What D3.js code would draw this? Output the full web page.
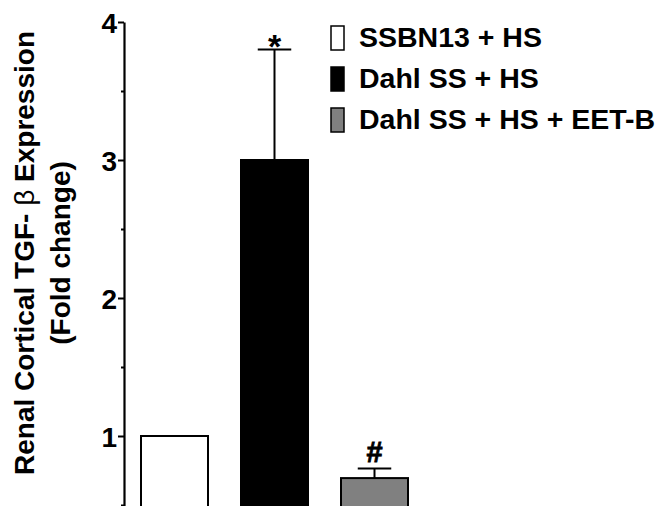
<!DOCTYPE html>
<html>
<head>
<meta charset="utf-8">
<script src="https://cdn.jsdelivr.net/npm/d3@7"></script>
<style>
  body { margin: 0; background: #fff; }
  svg text { font-family: "Liberation Sans", Arial, sans-serif; font-weight: bold; fill: #000; }
</style>
</head>
<body>
<div id="chart"></div>
<script>
const groups = ["SSBN13 + HS", "Dahl SS + HS", "Dahl SS + HS + EET-B"];
const means = [1.0, 3.0, 0.695];
const errors = [0, 0.8, 0.07];
const colors = ["#ffffff", "#000000", "#808080"];
const marks = ["", "*", "#"];
const majorTicks = [1, 2, 3, 4];
const minorTicks = [0.5, 1.5, 2.5, 3.5];

const width = 656, height = 506;

const svg = d3.select("#chart")
  .append("svg")
  .attr("width", width)
  .attr("height", height);

const x = d3.scaleBand()
  .domain(groups)
  .range([124, 425])
  .paddingInner(0.33)
  .paddingOuter(0.17);

const y = d3.scaleLinear()
  .domain([0, 4])
  .range([574, 22]);

// minor ticks
svg.append("g")
  .attr("transform", "translate(124,0)")
  .call(d3.axisLeft(y).tickValues(minorTicks).tickSize(3).tickFormat(""))
  .call(g => g.select(".domain").remove())
  .selectAll("line").attr("stroke-width", 2);

// main axis
const yAxis = svg.append("g")
  .attr("transform", "translate(124,0)")
  .call(d3.axisLeft(y).tickValues(majorTicks).tickSize(6).tickPadding(1).tickSizeOuter(0).tickFormat(d3.format("d")));

yAxis.select(".domain").attr("stroke-width", 2.2);
yAxis.selectAll(".tick line").attr("stroke-width", 2);
yAxis.selectAll(".tick text")
  .style("font-size", "28px")
  .style("font-weight", "bold")
  .attr("dy", "0.36em");

// bars
svg.selectAll("rect.bar")
  .data(groups)
  .enter()
  .append("rect")
  .attr("class", "bar")
  .attr("x", d => x(d))
  .attr("y", (d, i) => y(means[i]))
  .attr("width", x.bandwidth())
  .attr("height", (d, i) => y(0) - y(means[i]))
  .attr("fill", (d, i) => colors[i])
  .attr("stroke", "#000")
  .attr("stroke-width", 2);

// error bars
const eb = groups.map((d, i) => ({ g: d, m: means[i], e: errors[i], mark: marks[i] })).filter(d => d.e > 0);
const capW = x.bandwidth() / 2;

svg.selectAll("line.stem")
  .data(eb)
  .enter()
  .append("line")
  .attr("x1", d => x(d.g) + x.bandwidth() / 2)
  .attr("x2", d => x(d.g) + x.bandwidth() / 2)
  .attr("y1", d => y(d.m))
  .attr("y2", d => y(d.m + d.e))
  .attr("stroke", "#000")
  .attr("stroke-width", 2);

svg.selectAll("line.cap")
  .data(eb)
  .enter()
  .append("line")
  .attr("x1", d => x(d.g) + x.bandwidth() / 2 - capW / 2)
  .attr("x2", d => x(d.g) + x.bandwidth() / 2 + capW / 2)
  .attr("y1", d => y(d.m + d.e))
  .attr("y2", d => y(d.m + d.e))
  .attr("stroke", "#000")
  .attr("stroke-width", 2);

// significance marks
svg.selectAll("text.mark")
  .data(eb)
  .enter()
  .append("text")
  .attr("x", d => x(d.g) + x.bandwidth() / 2)
  .attr("y", d => y(d.m + d.e) + (d.mark === "*" ? 8 : -6))
  .attr("text-anchor", "middle")
  .style("font-size", d => d.mark === "*" ? "34px" : "29px")
  .style("font-weight", "bold")
  .style("stroke", d => d.mark === "#" ? "#000" : "none")
  .style("stroke-width", 0.8)
  .text(d => d.mark);

// y label
const yl = svg.append("text")
  .attr("transform", "translate(34,253) rotate(-90)")
  .attr("text-anchor", "middle")
  .style("font-size", "28px");
yl.append("tspan").attr("x", 0).attr("y", 0).text("Renal Cortical TGF- ");
yl.append("tspan").style("font-weight", "normal").text("\u03B2");
yl.append("tspan").text(" Expression");
yl.append("tspan").attr("x", 0).attr("y", 36).text("(Fold change)");

// legend
const legend = svg.selectAll("g.leg")
  .data(groups)
  .enter()
  .append("g")
  .attr("transform", (d, i) => `translate(331,${26 + i * 41})`);

legend.append("rect")
  .attr("width", 13)
  .attr("height", 24)
  .attr("fill", (d, i) => colors[i])
  .attr("stroke", "#000")
  .attr("stroke-width", 1.5);

legend.append("text")
  .attr("x", 28)
  .attr("y", 21)
  .style("font-size", "28.5px")
  .text(d => d);
</script>
</body>
</html>
